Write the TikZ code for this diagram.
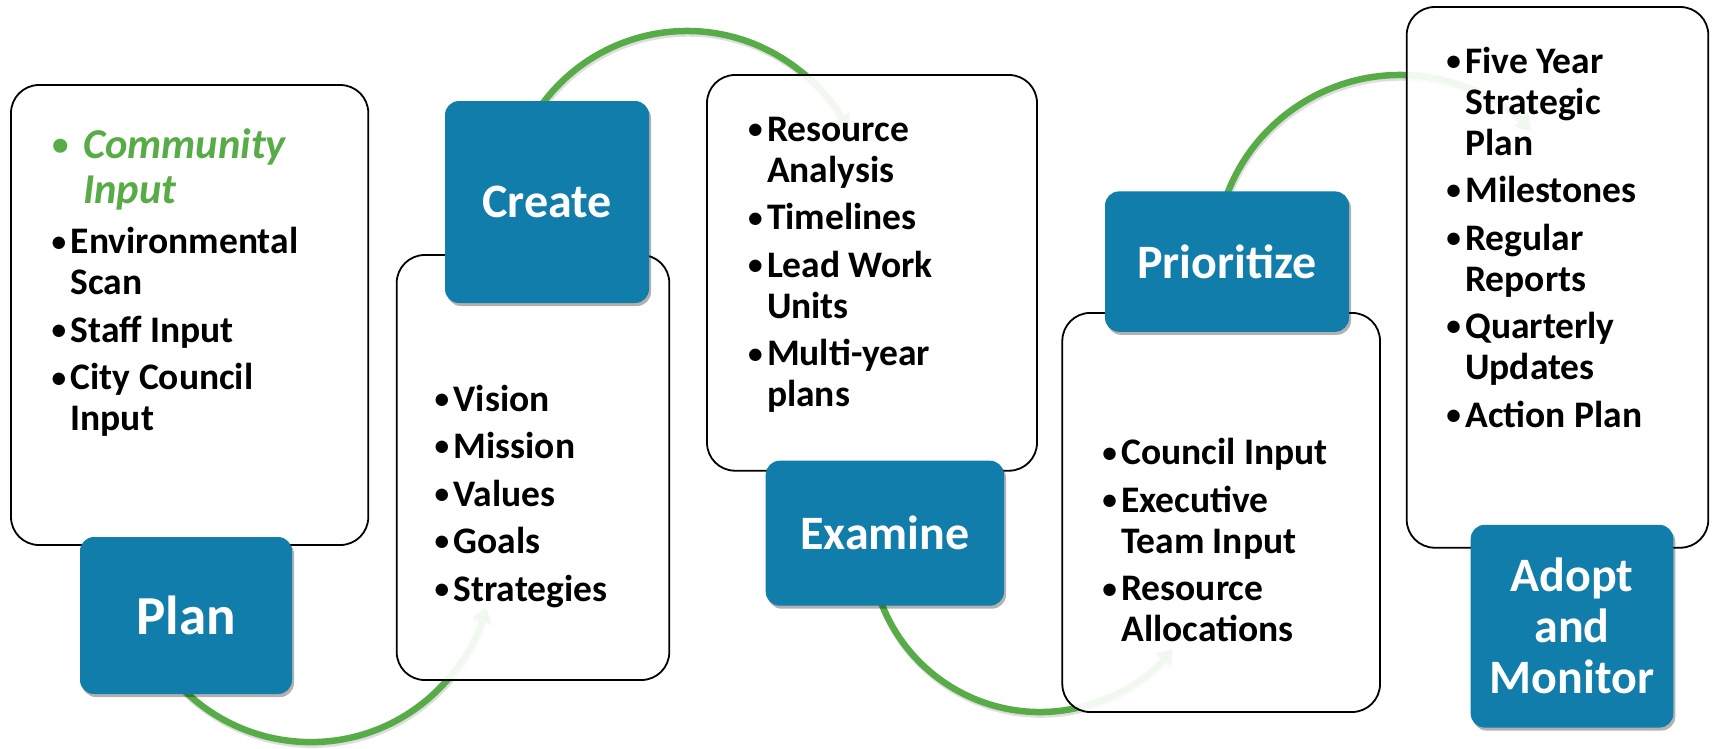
\documentclass[tikz,border=0pt]{standalone}
\usepackage{graphicx}
\usepackage{fontspec}
\setmainfont{Carlito}
\usetikzlibrary{calc,arrows.meta,shadows}
\definecolor{sblue}{RGB}{17,125,170}
\definecolor{sgreen}{RGB}{88,172,72}
\newcommand{\bu}{\makebox[20.5pt][l]{\hspace{1.5pt}\raisebox{2.6pt}{\scalebox{0.78}{\textbullet}}}}
\newcommand{\hg}{\hspace*{20.5pt}}
\tikzset{
  whitebox/.style={draw=black, line width=1.8pt, fill=white, fill opacity=0.92,
    rounded corners=28pt, inner sep=0pt, outer sep=0pt, anchor=north west},
  bluebox/.style={fill=sblue, rounded corners=14pt, inner sep=0pt, outer sep=0pt,
    anchor=north west, text=white, align=center,
    font=\fontsize{48}{51}\selectfont\bfseries,
    drop shadow={shadow xshift=2pt, shadow yshift=-3pt, opacity=0.3, fill=black}},
  flow/.style={draw=sgreen, line width=6.5pt,
    -{Triangle[length=14pt,width=19pt]},
    preaction={draw=black, draw opacity=0.13, line width=6.5pt, transform canvas={xshift=1pt,yshift=-2.5pt}}},
  itemtext/.style={anchor=base west, inner sep=0pt, outer sep=0pt,
    font=\fontsize{37.5}{41}\selectfont\bfseries}
}
\begin{document}
\begin{tikzpicture}[x=1pt,y=-1pt]
\useasboundingbox (0,0) rectangle (1712,748);

% connectors (drawn first, boxes above)
\coordinate (c1) at (310.8,561.3);
\coordinate (c2) at (687,211);
\coordinate (c3) at (1040,542);
\coordinate (c4) at (1400,260);
\coordinate (s1) at ($(c1)+(140:180.8)$);
\coordinate (s2) at ($(c2)+(210:180)$);
\coordinate (s3) at ($(c3)+(165:170)$);
\coordinate (s4) at ($(c4)+(193:185)$);
\draw[flow] (s1) arc[start angle=140, end angle=14.7, radius=180.8];
\draw[flow] (s2) arc[start angle=210, end angle=333, radius=180];
\draw[flow] (s3) arc[start angle=165, end angle=39, radius=170];
\draw[flow] (s4) arc[start angle=193, end angle=315, radius=185];

% white boxes
\node[whitebox, minimum width=357.3pt, minimum height=460pt] (planw) at (11,85) {};
\node[whitebox, minimum width=272.6pt, minimum height=425pt] (createw) at (396.7,255) {};
\node[whitebox, minimum width=330pt, minimum height=395.7pt] (examinew) at (707,75) {};
\node[whitebox, minimum width=317.7pt, minimum height=399.1pt] (prioritizew) at (1062.3,312.9) {};
\node[whitebox, minimum width=301.6pt, minimum height=540.7pt] (adoptw) at (1406.7,7) {};

% blue boxes
\node[bluebox, minimum width=212pt, minimum height=157pt] (plan) at (80,537) {\fontsize{55}{60}\selectfont Plan};
\node[bluebox, minimum width=204pt, minimum height=202pt] (create) at (445,101) {Create};
\node[bluebox, minimum width=238.3pt, minimum height=145pt] (examine) at (765.7,460.7) {Examine};
\node[bluebox, minimum width=244pt, minimum height=140.4pt] (prioritize) at (1105,191.4) {Prioritize};
\node[bluebox, minimum width=202.6pt, minimum height=202.8pt] (adopt) at (1470.7,524.8) {Adopt\\and\\Monitor};

% item texts
\node[itemtext, text=sgreen, font=\fontsize{42.5}{45.6}\selectfont\bfseries\itshape] (plangreen) at (50,158)
  {\begin{tabular}[t]{@{}l@{}}\makebox[33pt][l]{\hspace{2pt}\raisebox{3pt}{\scalebox{0.78}{\upshape\textbullet}}}Community\\ \hspace*{33pt}Input\end{tabular}};
\node[itemtext] (plantext) at (50.2,253.8)
  {\begin{tabular}[t]{@{}l@{}}\bu Environmental\\ \hg Scan\\[6.5pt] \bu Staff Input\\[6.5pt] \bu City Council\\ \hg Input\end{tabular}};
\node[itemtext] (createtext) at (433.2,411)
  {\begin{tabular}[t]{@{}l@{}}\bu Vision\\[6.5pt] \bu Mission\\[6.5pt] \bu Values\\[6.5pt] \bu Goals\\[6.5pt] \bu Strategies\end{tabular}};
\node[itemtext] (examinetext) at (746.5,141.4)
  {\begin{tabular}[t]{@{}l@{}}\bu Resource\\ \hg Analysis\\[6.5pt] \bu Timelines\\[6.5pt] \bu Lead Work\\ \hg Units\\[6.5pt] \bu Multi-year\\ \hg plans\end{tabular}};
\node[itemtext] (prioritizetext) at (1100.8,464.6)
  {\begin{tabular}[t]{@{}l@{}}\bu Council Input\\[6.5pt] \bu Executive\\ \hg Team Input\\[6.5pt] \bu Resource\\ \hg Allocations\end{tabular}};
\node[itemtext] (adopttext) at (1444.8,73)
  {\begin{tabular}[t]{@{}l@{}}\bu Five Year\\ \hg Strategic\\ \hg Plan\\[6.5pt] \bu Milestones\\[6.5pt] \bu Regular\\ \hg Reports\\[6.5pt] \bu Quarterly\\ \hg Updates\\[6.5pt] \bu Action Plan\end{tabular}};
\end{tikzpicture}
\end{document}
